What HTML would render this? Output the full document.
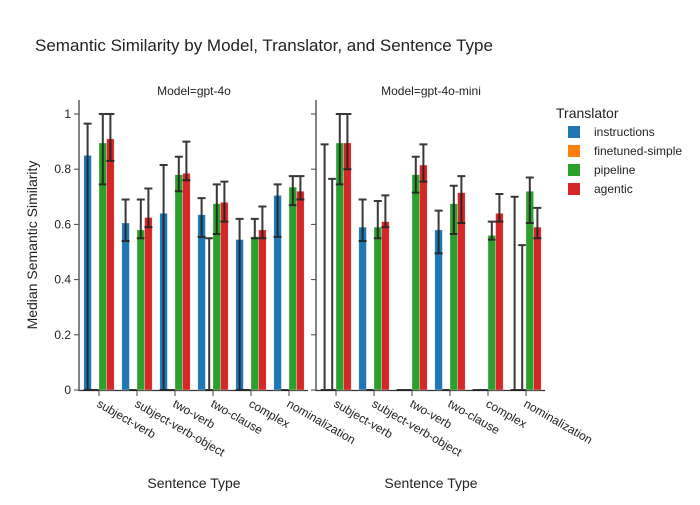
<!DOCTYPE html>
<html><head><meta charset="utf-8"><style>
body{margin:0;background:#fff;}
svg text{font-family:"Liberation Sans",Arial,sans-serif;fill:#2a3f5f;}
</style></head><body>
<svg id="c" width="700" height="500" xmlns="http://www.w3.org/2000/svg">
<text x="35" y="51" font-size="17" style="fill:#222">Semantic Similarity by Model, Translator, and Sentence Type</text>
</svg>
<script>
const categories=["subject-verb","subject-verb-object","two-verb","two-clause","complex","nominalization"];
const translators=["instructions","finetuned-simple","pipeline","agentic"];
const colors=["#1f77b4","#ff7f0e","#2ca02c","#d62728"];
const models=["gpt-4o","gpt-4o-mini"];
const yTicks=[0,0.2,0.4,0.6,0.8,1];
const yTickLabels=["0","0.2","0.4","0.6","0.8","1"];
// gpt-4o: [translator][category]
const g4Val=[[0.85,0.605,0.64,0.635,0.545,0.705],[0,0,0,0,0,0],[0.895,0.58,0.78,0.675,0.555,0.735],[0.91,0.625,0.785,0.68,0.58,0.72]];
const g4Lo=[[0,0.54,0,0.555,0,0.555],[0,0,0,0,0,0],[0.745,0.55,0.72,0.565,0.55,0.67],[0.83,0.59,0.76,0.61,0.55,0.69]];
const g4Hi=[[0.965,0.69,0.815,0.695,0.62,0.745],[0,0,0,0.55,0,0],[1,0.69,0.845,0.745,0.62,0.775],[1,0.73,0.9,0.755,0.665,0.775]];
const miniVal=[[0,0.59,0,0.58,0,0],[0,0,0,0,0,0],[0.895,0.59,0.78,0.675,0.56,0.72],[0.895,0.61,0.815,0.715,0.64,0.59]];
const miniLo=[[0,0.54,0,0.495,0,0],[0,0,0,0,0,0],[0.745,0.55,0.715,0.565,0.545,0.605],[0.8,0.59,0.755,0.605,0.61,0.55]];
const miniHi=[[0.89,0.69,0,0.65,0,0.7],[0.765,0,0,0,0,0.525],[1,0.685,0.845,0.74,0.61,0.77],[1,0.705,0.89,0.775,0.71,0.66]];
const vals=[g4Val,miniVal],los=[g4Lo,miniLo],his=[g4Hi,miniHi];

const svg=document.getElementById('c');const NS="http://www.w3.org/2000/svg";
function el(t,a,txt){const e=document.createElementNS(NS,t);for(const k in a)e.setAttribute(k,a[k]);if(txt!==undefined)e.textContent=txt;svg.appendChild(e);return e;}
const y0=390,y1=114;
function yS(v){return y0-(y0-y1)*v;}
const panels=[80,317],pw=228;
function xS(p,i){return panels[p]+pw/categories.length*(i+0.5);}
const bw=7.6;
panels.forEach((px,p)=>{
  let t=el('text',{x:px+pw/2,y:95,'font-size':12,'text-anchor':'middle',style:'fill:#222'},'Model='+models[p]);
  
  
  let ax=el('line',{x1:px-1,x2:px-1,y1:100,y2:391,stroke:'#333','stroke-width':1.2});
  
  
  let bx=el('line',{x1:px-1,x2:px+pw,y1:390.5,y2:390.5,stroke:'#333','stroke-width':1.2});
  
  
  yTicks.forEach((v,k)=>{
    let tl=el('line',{x1:px-6,x2:px-1,y1:yS(v),y2:yS(v),stroke:'#444'});
    
    
    if(p===0){let lb=el('text',{x:px-9,y:yS(v)+4,'font-size':12,'text-anchor':'end',style:'fill:#222'},yTickLabels[k]);
      
      }
  });
  categories.forEach((c,i)=>{
    const cx=xS(p,i);
    let tk=el('line',{x1:cx,x2:cx,y1:391,y2:396,stroke:'#444'});
    
    
    let lb=el('text',{x:cx-3,y:406,'font-size':12,transform:`rotate(30 ${cx-3} 406)`,style:'fill:#222'},c);
    
    
    translators.forEach((tr,j)=>{
      const bx=cx-15.2+bw*j;const v=vals[p][j][i];
      let r=el('rect',{x:bx,y:yS(v),width:bw,height:y0-yS(v),fill:colors[j],stroke:'rgba(255,255,255,0.5)','stroke-width':0.6});
      
      
      const ex=bx+bw/2,lo=yS(los[p][j][i]),hi=yS(his[p][j][i]);
      let e=el('path',{d:`M${ex},${lo}V${hi}M${ex-4},${hi}H${ex+4}M${ex-4},${lo}H${ex+4}`,stroke:'#222','stroke-width':2,fill:'none','stroke-opacity':0.9});
      
      
    });
  });
  let xt=el('text',{x:px+pw/2,y:488,'font-size':14,'text-anchor':'middle',style:'fill:#222'},'Sentence Type');
  
  
});
let yt=el('text',{x:37,y:245,'font-size':14,'text-anchor':'middle',transform:'rotate(-90 37 245)',style:'fill:#222'},'Median Semantic Similarity');


let lt=el('text',{x:556,y:118,'font-size':14,style:'fill:#222'},'Translator');


translators.forEach((tr,j)=>{
  const ly=132+19*j;
  let s=el('rect',{x:568,y:ly-6,width:12,height:12,fill:colors[j]});
  
  
  let t=el('text',{x:594,y:ly+4,'font-size':12,style:'fill:#222'},tr);
  
  
});
</script>
</body></html>
